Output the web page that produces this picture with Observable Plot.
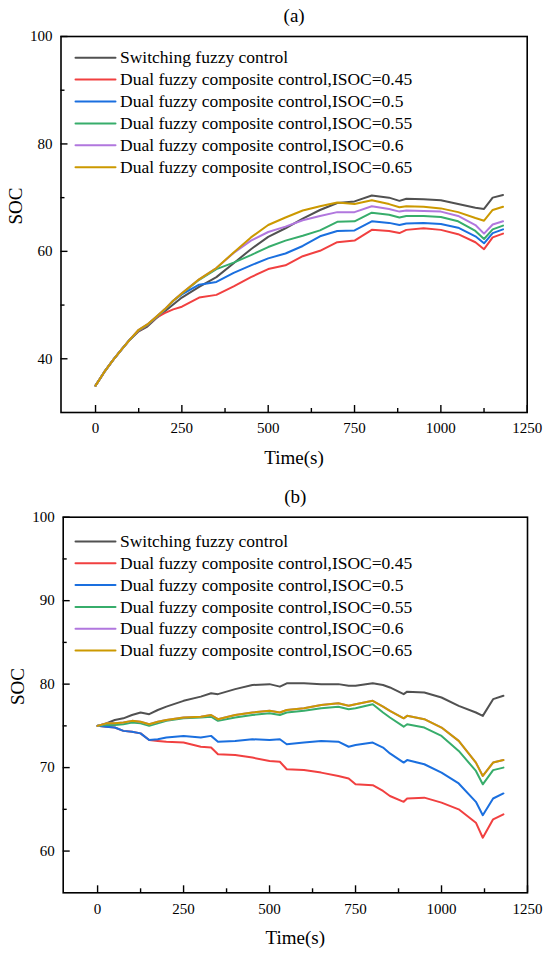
<!DOCTYPE html>
<html><head><meta charset="utf-8">
<script src="https://cdn.jsdelivr.net/npm/d3@7"></script>
<script src="https://cdn.jsdelivr.net/npm/@observablehq/plot@0.6"></script>
<style>
html,body{margin:0;padding:0;background:#fff;}
#chart svg{display:block;}
#chart svg, #chart svg text, #chart svg g { font-family: "Liberation Serif", "Times New Roman", Times, serif !important; }
</style>
</head><body><div id="chart"></div>
<script>
// ---------- shared ----------
const seriesNames = [
  "Switching fuzzy control",
  "Dual fuzzy composite control,ISOC=0.45",
  "Dual fuzzy composite control,ISOC=0.5",
  "Dual fuzzy composite control,ISOC=0.55",
  "Dual fuzzy composite control,ISOC=0.6",
  "Dual fuzzy composite control,ISOC=0.65"
];
const seriesColors = ["#515151", "#F14040", "#1A6FDF", "#37AD6B", "#B177DE", "#CC9900"];
const xMajorTicks = [0, 250, 500, 750, 1000, 1250];
const xMinorTicks = [125, 375, 625, 875, 1125];

// ---------- panel (a) ----------
const timeA = [0,25,50,75,100,125,150,175,200,225,250,300,350,400,450,500,550,600,650,700,750,800,850,880,900,950,1000,1050,1100,1125,1150,1180];
const socA_switching = [35,37.5,39.7,41.7,43.6,45.1,46.0,47.5,48.8,50.1,51.4,53.4,55.2,57.8,60.4,62.7,64.3,66.1,67.7,69.0,69.3,70.4,70.0,69.4,69.8,69.7,69.5,68.8,68.1,67.9,70.0,70.5];
const socA_045 = [35,37.5,39.7,41.7,43.6,45.2,46.2,47.6,48.5,49.2,49.7,51.4,51.9,53.5,55.2,56.7,57.4,59.1,60.1,61.7,62.0,64.0,63.8,63.4,64.0,64.3,64.0,63.2,61.7,60.4,62.6,63.3];
const socA_050 = [35,37.5,39.7,41.7,43.6,45.3,46.3,47.7,49.1,50.8,52.0,53.8,54.3,56.0,57.4,58.7,59.6,61.0,62.8,63.8,63.9,65.6,65.3,64.9,65.2,65.3,65.1,64.4,62.8,61.5,63.4,64.1];
const socA_055 = [35,37.5,39.7,41.7,43.6,45.3,46.3,47.7,49.1,50.8,52.1,54.7,56.7,57.9,59.3,60.8,62.0,62.9,63.9,65.5,65.6,67.2,66.8,66.3,66.6,66.6,66.4,65.6,63.8,62.3,64.1,64.8];
const socA_060 = [35,37.5,39.7,41.7,43.6,45.4,46.4,47.8,49.2,50.8,52.2,54.8,56.9,59.7,62.0,63.6,64.6,65.8,66.6,67.3,67.3,68.4,67.9,67.4,67.6,67.5,67.4,66.6,64.9,63.3,65.0,65.6];
const socA_065 = [35,37.5,39.7,41.7,43.6,45.4,46.4,47.8,49.2,50.8,52.2,54.8,56.9,59.8,62.6,64.9,66.3,67.6,68.4,69.1,68.8,69.5,68.8,68.2,68.4,68.3,68.0,67.3,66.2,65.7,67.7,68.3];
const yMajorA = [40, 60, 80, 100];
const yMinorA = [50, 70, 90];

// ---------- panel (b) ----------
const timeB = [0,25,50,75,100,125,150,175,200,250,300,330,350,400,450,500,530,550,600,650,700,730,750,800,830,850,890,900,950,1000,1050,1100,1120,1150,1180];
const socB_switching = [75,75.3,75.7,75.9,76.3,76.6,76.4,76.9,77.3,78.0,78.5,78.9,78.8,79.4,79.9,80.0,79.7,80.1,80.1,80.0,80.0,79.8,79.8,80.1,79.9,79.6,78.8,79.1,79.0,78.4,77.4,76.6,76.2,78.2,78.6];
const socB_045 = [75,74.9,74.8,74.4,74.3,74.1,73.3,73.2,73.1,73.0,72.5,72.4,71.6,71.5,71.2,70.8,70.7,69.8,69.7,69.4,69.0,68.7,68.0,67.9,67.2,66.6,65.9,66.3,66.4,65.8,65.0,63.4,61.6,63.8,64.4];
const socB_050 = [75,74.9,74.8,74.4,74.3,74.1,73.3,73.4,73.6,73.8,73.6,73.8,73.1,73.2,73.4,73.3,73.4,72.8,73.0,73.2,73.1,72.5,72.7,73.0,72.4,71.7,70.6,70.9,70.4,69.4,68.1,65.9,64.3,66.3,66.9];
const socB_055 = [75,75.1,75.1,75.2,75.4,75.3,75.0,75.3,75.6,75.9,76.0,76.1,75.6,76.0,76.3,76.5,76.3,76.6,76.8,77.1,77.3,77.0,77.1,77.6,76.6,76.0,74.9,75.2,74.8,73.8,72.0,69.6,68.0,69.7,70.0];
const socB_060 = [75,75.3,75.3,75.4,75.6,75.5,75.2,75.5,75.7,76.0,76.1,76.3,75.8,76.3,76.6,76.8,76.6,76.9,77.1,77.5,77.7,77.4,77.6,78.0,77.3,76.8,75.9,76.2,75.8,74.8,73.2,70.6,69.0,70.6,70.9];
const socB_065 = [75,75.3,75.3,75.4,75.6,75.5,75.2,75.5,75.7,76.0,76.1,76.3,75.8,76.3,76.6,76.8,76.6,76.9,77.1,77.5,77.7,77.4,77.6,78.0,77.3,76.8,75.9,76.2,75.8,74.8,73.2,70.6,69.0,70.6,70.9];
const yMajorB = [60, 70, 80, 90, 100];
const yMinorB = [65, 75, 85, 95];

const FONT = "Liberation Serif, Times New Roman, Times, serif";
const lineShape = {draw(ctx, l) { ctx.moveTo(0, 0); ctx.lineTo(0, -l); }};

function panel({title, time, series, yDomain, yMajor, yMinor, height, mTop, mBottom, mLeft, mRight, titleDy, legDx, legDy0, legStep, xLabDy}) {
  const rows = [];
  series.forEach((vals, i) => {
    vals.forEach((v, j) => rows.push({t: time[j], v, s: seriesNames[i]}));
  });
  const legend = [];
  seriesNames.forEach((name, i) => {
    const dy = legDy0 + legStep * i;
    legend.push(Plot.vector([0], {frameAnchor: "top-left", dx: legDx, dy, length: 40, rotate: 90, anchor: "start",
      shape: lineShape, stroke: seriesColors[i], strokeWidth: 2}));
    legend.push(Plot.text([name], {text: d => d, frameAnchor: "top-left", dx: legDx + 44.5, dy,
      textAnchor: "start", lineAnchor: "middle", fontSize: 17.5, fontFamily: FONT, fill: "black"}));
  });
  return Plot.plot({
    width: 550, height,
    marginTop: mTop, marginBottom: mBottom, marginLeft: mLeft, marginRight: mRight,
    style: {fontFamily: FONT, background: "white", color: "black", overflow: "visible"},
    x: {domain: [-100, 1250]},
    y: {domain: yDomain},
    color: {domain: seriesNames, range: seriesColors},
    marks: [
      Plot.line(rows, {x: "t", y: "v", z: "s", stroke: "s", strokeWidth: 2, strokeLinejoin: "round"}),
      Plot.axisX({ticks: xMajorTicks, tickSize: -7, tickPadding: 17 + xLabDy, tickFormat: d => String(d), fontSize: 15, fontFamily: FONT, label: null, strokeWidth: 1.4}),
      Plot.axisX({ticks: xMinorTicks, tickSize: -4, tickFormat: () => "", label: null, strokeWidth: 1.4}),
      Plot.axisY({ticks: yMajor, tickSize: -7, tickPadding: 15.5, tickFormat: d => String(d), fontSize: 15, fontFamily: FONT, label: null, strokeWidth: 1.4}),
      Plot.axisY({ticks: yMinor, tickSize: -4, tickFormat: () => "", label: null, strokeWidth: 1.4}),
      Plot.frame({stroke: "black", strokeWidth: 1.6}),
      ...legend,
      Plot.text([title], {text: d => d, frameAnchor: "top", dy: titleDy, fontSize: 19, fontFamily: FONT, lineAnchor: "middle", fill: "black"}),
      Plot.text(["Time(s)"], {text: d => d, frameAnchor: "bottom", dy: 45, fontSize: 19, fontFamily: FONT, lineAnchor: "middle", fill: "black"}),
      Plot.text(["SOC"], {text: d => d, frameAnchor: "left", dx: -45.5, rotate: -90, fontSize: 19, fontFamily: FONT, lineAnchor: "middle", fill: "black"})
    ]
  });
}

const chart = document.getElementById("chart");
chart.appendChild(panel({
  title: "(a)", time: timeA,
  series: [socA_switching, socA_045, socA_050, socA_055, socA_060, socA_065],
  yDomain: [30, 100], yMajor: yMajorA, yMinor: yMinorA,
  height: 470, mTop: 36, mBottom: 58, mLeft: 60.5, mRight: 23.3,
  titleDy: -21, legDx: 14.5, legDy0: 21.2, legStep: 21.9, xLabDy: 0
}));
chart.appendChild(panel({
  title: "(b)", time: timeB,
  series: [socB_switching, socB_045, socB_050, socB_055, socB_060, socB_065],
  yDomain: [55, 100], yMajor: yMajorB, yMinor: yMinorB,
  height: 483, mTop: 46.7, mBottom: 60.7, mLeft: 62.7, mRight: 23,
  titleDy: -20, legDx: 12.3, legDy0: 24.3, legStep: 21.8, xLabDy: 1
}));
</script>
</body></html>
